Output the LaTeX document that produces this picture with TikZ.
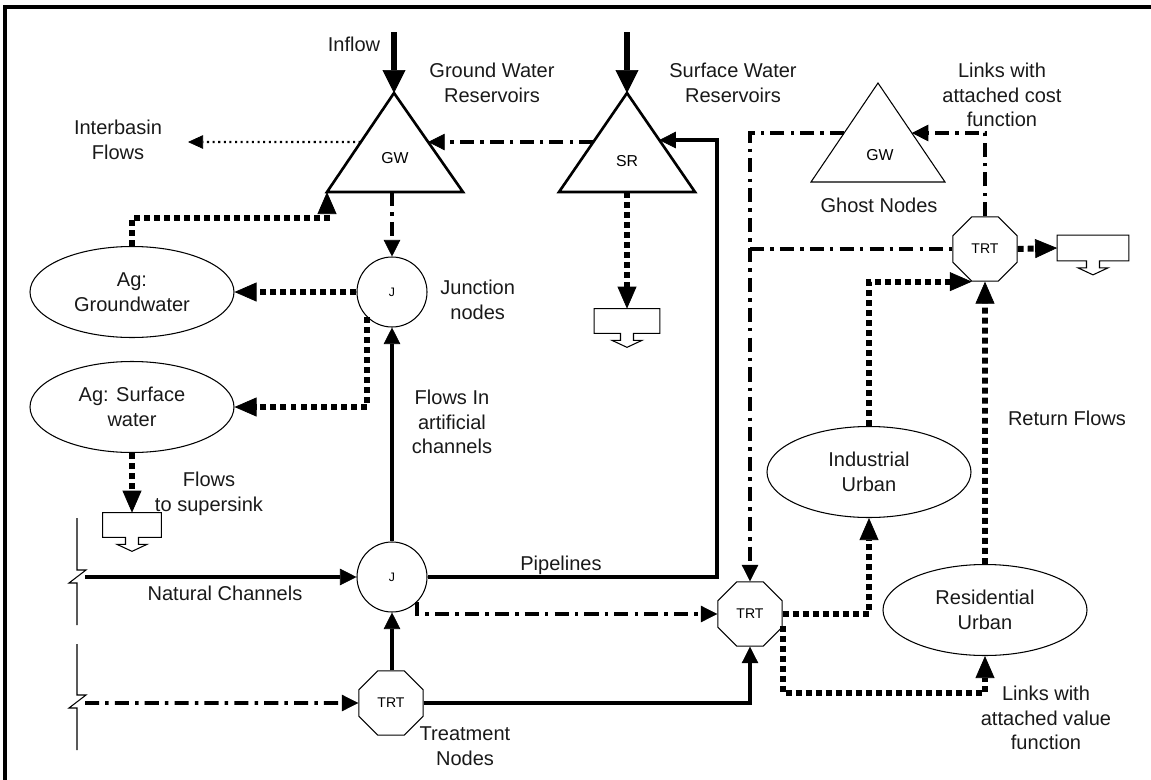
\documentclass[tikz,border=0pt]{standalone}
\usepackage{fontspec}
\setsansfont{Liberation Sans}
\usepackage{tikz}
\usetikzlibrary{
  shapes.geometric,
  arrows.meta,
  positioning,
  calc
}
\definecolor{linecolor}{RGB}{0, 0, 0}
\definecolor{labelcolor}{RGB}{25, 25, 25}
\tikzset{
labeltext/.style={
  font=\sffamily\fontsize{11.4}{14}\selectfont,
  text=labelcolor,
  align=center,
  inner sep=0pt
},
demandnode/.style={
  ellipse,
  draw=linecolor,
  line width=0.6pt,
  minimum width=40.8mm,
  minimum height=18.2mm,
  inner sep=0pt,
  labeltext
},
junctionnode/.style={
  circle,
  draw=linecolor,
  line width=0.6pt,
  minimum size=14mm,
  inner sep=0pt,
  font=\sffamily\fontsize{7}{8}\selectfont
},
treatnode/.style={
  regular polygon,
  regular polygon sides=8,
  draw=linecolor,
  line width=0.6pt,
  minimum size=13.9mm,
  inner sep=0pt,
  font=\sffamily\fontsize{8}{9}\selectfont
},
reservoirtext/.style={
  font=\sffamily\fontsize{9}{10}\selectfont,
  inner sep=0pt
},
sinkbox/.style={
  rectangle,
  minimum height=4.8mm,
  inner sep=0pt
},
sinkline/.style={
  draw=linecolor,
  line width=0.6pt,
  fill=white
}
}

% contorno do sumidouro (caixa com seta para baixo)
\newcommand{\sinkoutline}[1]{%
  \draw[sinkline] (#1.south west) -- (#1.north west) -- (#1.north east) -- (#1.south east)
    -- ($(#1.south)+(6.5,0)$) -- ++(0,7) -- ++(8.5,0) -- ($(#1.south)+(0,14)$)
    -- ($(#1.south)+(-15,7)$) -- ++(8.5,0) -- ($(#1.south)+(-6.5,0)$) -- cycle;%
}

\begin{document}
\begin{tikzpicture}[
    % Definicao de estilos
    x=0.2mm, y=-0.2mm,
    node distance=2mm,
    % Linhas dos reservatorios
    reservoirline/.style={
        line width=1.5pt,
        line join=miter,
        draw=linecolor
    },
    ghostline/.style={
        line width=0.6pt,
        draw=linecolor
    },
    breakline/.style={
        line width=0.6pt,
        draw=linecolor
    },
    % Estilos para setas
    inflowarrow/.style={
        -{Triangle[length=4.6mm,width=4.6mm,line width=0.4pt]},
        line width=3.4pt,
        draw=linecolor
    },
    solidline/.style={
        line width=1.8pt,
        draw=linecolor
    },
    solidarrow/.style={
        solidline,
        -{Triangle[length=3.3mm,width=3.3mm,line width=0.4pt]}
    },
    dashdotline/.style={
        line width=2pt,
        dash pattern=on 8pt off 3.5pt on 2pt off 3.5pt,
        draw=linecolor
    },
    dashdotarrow/.style={
        dashdotline,
        -{Triangle[length=3.3mm,width=3.3mm,line width=0.4pt]}
    },
    dotline/.style={
        line width=3.4pt,
        dash pattern=on 3.4pt off 2.3pt,
        draw=linecolor
    },
    dotarrow/.style={
        dotline,
        -{Triangle[length=4.4mm,width=3.8mm,line width=0.4pt]}
    },
    finedotarrow/.style={
        line width=1.2pt,
        dash pattern=on 1.2pt off 2pt,
        draw=linecolor,
        -{Triangle[length=3mm,width=2.7mm,line width=0.4pt]}
    },
]
\useasboundingbox (0,0) rectangle (1151,780);

% ============================================================================
% Moldura
% ============================================================================
\draw[line width=2.5pt, line join=miter] (5,790) -- (5,7) -- (1160,7);

% ============================================================================
% Reservatorios: GW, SR e no fantasma
% ============================================================================

% Ground water
\coordinate (gwTop) at (394,93);
\coordinate (gwLeft) at (327,192);
\coordinate (gwRight) at (463,192);
\draw[reservoirline] (gwTop) -- (gwRight) -- (gwLeft) -- cycle;
\node[reservoirtext] (gw) at (395,158) {GW};

% Surface water
\coordinate (srTop) at (627,93);
\coordinate (srLeft) at (559,192);
\coordinate (srRight) at (695,192);
\draw[reservoirline] (srTop) -- (srRight) -- (srLeft) -- cycle;
\node[reservoirtext] (sr) at (627,161) {SR};

% Ghost node
\coordinate (ghostTop) at (878,83);
\coordinate (ghostLeft) at (811,182);
\coordinate (ghostRight) at (945,182);
\draw[ghostline] (ghostTop) -- (ghostRight) -- (ghostLeft) -- cycle;
\node[reservoirtext] (ghost) at (880,155) {GW};

% pontos nas arestas
\coordinate (gwInL) at ($(gwTop)!0.495!(gwLeft)$);
\coordinate (gwInR) at ($(gwTop)!0.495!(gwRight)$);
\coordinate (srInL) at ($(srTop)!0.495!(srLeft)$);
\coordinate (srInR) at ($(srTop)!0.475!(srRight)$);
\coordinate (ghostInL) at ($(ghostTop)!0.505!(ghostLeft)$);
\coordinate (ghostInR) at ($(ghostTop)!0.505!(ghostRight)$);

% extremidades livres
\coordinate (gwInflow) at (394,32);
\coordinate (srInflow) at (627,32);
\coordinate (interbasin) at (188,142);
\coordinate (naturalIn) at (85,577);
\coordinate (treatIn) at (85,703);
\coordinate (pipeTurn) at (717,577);
\coordinate (valueTurn) at (985,693);

% ============================================================================
% Nos
% ============================================================================
\node[demandnode] (agGW) at (132,292) {Ag:\\Groundwater};
\node[demandnode] (agSW) at (132,407) {Ag: Surface\\water};
\node[junctionnode] (j1) at (392,292) {J};
\node[junctionnode] (j2) at (392,577) {J};
\node[treatnode] (trt1) at (391,703) {TRT};
\node[treatnode] (trt3) at (750,614) {TRT};
\node[treatnode] (trt2) at (985,249) {TRT};
\node[demandnode] (indU) at (869,472) {Industrial\\Urban};
\node[demandnode] (resU) at (985,610) {Residential\\Urban};

% Sumidouros
\node[sinkbox, minimum width=11.6mm] (sink1) at (132,525) {};
\node[sinkbox, minimum width=13mm] (sink2) at (627,321) {};
\node[sinkbox, minimum width=14.2mm, minimum height=5mm] (sink3) at (1093,248) {};
\sinkoutline{sink1}
\sinkoutline{sink2}
\sinkoutline{sink3}

% Quebras (canais naturais)
\draw[breakline] (77,518) -- (77,570) -- (86,570) -- (69,583) -- (77,583) -- (77,625);
\draw[breakline] (77,644) -- (77,695) -- (86,695) -- (69,708) -- (77,708) -- (77,750);

% ============================================================================
% Rotulos
% ============================================================================
\node[labeltext] (inflowlabel) at (354,44) {Inflow};
\node[labeltext] (gwlabel) at (492,83) {Ground Water\\Reservoirs};
\node[labeltext] (srlabel) at (733,83) {Surface Water\\Reservoirs};
\node[labeltext] (costlabel) at (1002,95) {Links with\\attached cost\\function};
\node[labeltext] (interlabel) at (118,140) {Interbasin\\Flows};
\node[labeltext] (ghostlabel) at (879,205) {Ghost Nodes};
\node[labeltext, right=2.5mm of j1, yshift=-1.6mm] (junctionlabel) {Junction\\nodes};
\node[labeltext] (artificiallabel) at (452,422) {Flows In\\artificial\\channels};
\node[labeltext] (supersinklabel) at (209,494) {Flows\\to supersink};
\node[labeltext] (naturallabel) at (225,593) {Natural Channels};
\node[labeltext] (pipelabel) at (561,565) {Pipelines};
\node[labeltext] (treatlabel) at (465,746) {Treatment\\Nodes};
\node[labeltext] (returnlabel) at (1067,418) {Return Flows};
\node[labeltext] (valuelabel) at (1046,718) {Links with\\attached value\\function};

% ============================================================================
% Setas de conexao
% ============================================================================

% Entradas
\draw[inflowarrow] (gwInflow) -- (gwTop);
\draw[inflowarrow] (srInflow) -- (srTop);

% Reservatorios
\draw[finedotarrow] (gwInL) -- (interbasin);
\draw[dashdotarrow] (srInL) -- (gwInR);
\draw[dashdotarrow] (j1.north |- gwLeft) -- (j1.north);
\draw[dotarrow] (sink2.north |- srLeft) -- (sink2.north);

% Agricultura
\draw[dotarrow] (agGW.north) -- ++(0,-28) -| (gwLeft);
\draw[dotarrow] (j1.west) -- (agGW.east);
\draw[dotarrow] (j1.south west) |- (agSW.east);
\draw[dotarrow] (agSW.south) -- (sink1.north);

% Canais e tratamento
\draw[solidarrow] (naturalIn) -- (j2.west);
\draw[solidarrow] (j2.north) -- (j1.south);
\draw[solidarrow] (j2.east) -- (pipeTurn) |- (srInR);
\draw[dashdotarrow] (j2.south east) |- (trt3.west);
\draw[dashdotarrow] (treatIn) -- (trt1.west);
\draw[solidarrow] (j2.south |- trt1.north) -- (j2.south);
\draw[solidarrow] (trt1.east) -| (trt3.south);

% No fantasma
\draw[dashdotarrow] (ghostInL) -| (trt3.north);
\draw[dashdotline] (trt3.north |- trt2.west) -- (trt2.west);
\draw[dashdotarrow] (trt2.north) |- (ghostInR);

% Demandas urbanas e retorno
\draw[dotarrow] (trt2.east) -- (sink3.west);
\draw[dotarrow] (trt3.east) -| (indU.south);
\draw[dotarrow] (trt3.-20) |- (valueTurn) -- (resU.south);
\draw[dotarrow] (indU.north) |- (trt2.-112.5);
\draw[dotarrow] (resU.north) -- (trt2.south);

\end{tikzpicture}
\end{document}
